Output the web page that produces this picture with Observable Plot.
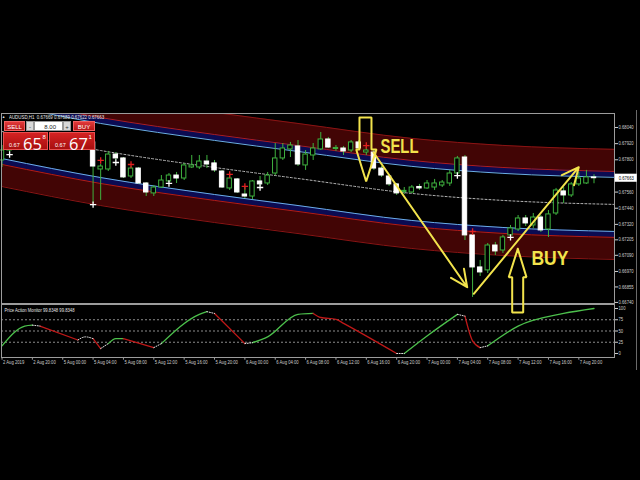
<!DOCTYPE html>
<html><head><meta charset="utf-8">
<script src="https://cdn.jsdelivr.net/npm/d3@7"></script>
<script src="https://cdn.jsdelivr.net/npm/@observablehq/plot@0.6"></script>
<style>
html,body{margin:0;padding:0;background:#000;}
#wrap{position:relative;width:640px;height:480px;overflow:hidden;background:#000;font-family:"Liberation Sans",sans-serif;}
#ind,#main{position:absolute;left:0;}
#ind{top:303px;z-index:1;}
#main{top:0;z-index:2;}
.ov{position:absolute;z-index:3;box-sizing:border-box;}
.hdr{color:#e8e8e8;font-size:5.5px;white-space:pre;line-height:6px;transform:scaleX(0.8);transform-origin:0 0;}
.btn{color:#fff;font-size:6px;line-height:10px;text-align:center;}
.red{background:linear-gradient(#e03a3a,#b81818);border:0.5px solid #f06060;}
.grey{background:#d8d8d8;color:#333;border:0.5px solid #999;}
.inp{background:#fff;color:#222;font-size:6px;line-height:10px;text-align:right;padding-right:6px;border:0.5px solid #999;}
.pbox{background:linear-gradient(#d42222,#a80f0f);color:#fff;border:0.5px solid #e85050;}
.pbox .sm{position:absolute;left:5px;top:8.5px;font-size:5.5px;}
.pbox .big{position:absolute;left:19px;top:-1.5px;font-size:16.5px;font-family:"Open Sans","Liberation Sans",sans-serif;}
.pbox .sup{position:absolute;left:38.5px;top:1px;font-size:6px;}
#edge{position:absolute;left:636px;top:110px;width:1px;height:260px;background:#6a6a6a;z-index:0;}
</style></head><body><div id="wrap">
<div id="edge"></div>
<div id="ind"></div><div id="main"></div>
<div class="ov hdr" style="left:2px;top:114px;font-size:4px;">▲</div>
<div class="ov hdr" id="hdr" style="left:9px;top:114px;"></div>
<div class="ov btn red" style="left:4px;top:121px;width:21px;height:10px;">SELL</div>
<div class="ov btn grey" style="left:26px;top:121px;width:8px;height:10px;">-</div>
<div class="ov inp" style="left:34px;top:121px;width:29px;height:10px;">8.00</div>
<div class="ov btn grey" style="left:63px;top:121px;width:8px;height:10px;">+</div>
<div class="ov btn red" style="left:73px;top:121px;width:22px;height:10px;">BUY</div>
<div class="ov pbox" style="left:3px;top:132px;width:45px;height:18px;"><span class="sm">0.67</span><span class="big">65</span><span class="sup">8</span></div>
<div class="ov pbox" style="left:49px;top:132px;width:46px;height:18px;"><span class="sm">0.67</span><span class="big">67</span><span class="sup">1</span></div>
</div>
<script>
// ---------- data ----------
const symbolHeader = ["AUDUSD,H1", "0.67669", "0.67689", "0.67622", "0.67663"];
const timeLabels = ["2 Aug 2019","2 Aug 20:00","5 Aug 00:00","5 Aug 04:00","5 Aug 08:00","5 Aug 12:00","5 Aug 16:00","5 Aug 20:00","6 Aug 00:00","6 Aug 04:00","6 Aug 08:00","6 Aug 12:00","6 Aug 16:00","6 Aug 20:00","7 Aug 00:00","7 Aug 04:00","7 Aug 08:00","7 Aug 12:00","7 Aug 16:00","7 Aug 20:00"];
const timeTickBars = [0,4,8,12,16,20,24,28,32,36,40,44,48,52,56,60,64,68,72,76];
const priceTicks = [0.68040,0.67920,0.67800,0.67560,0.67440,0.67320,0.67205,0.67090,0.66970,0.66855,0.66740];
const levelTicks = [0,25,50,75,100];
const levelLines = [25,50,75];

const bars   = [0,1,12,13,14,15,16,17,18,19,20,21,22,23,24,25,26,27,28,29,30,31,32,33,34,35,36,37,38,39,40,41,42,43,44,45,46,47,48,49,50,51,52,53,54,55,56,57,58,59,60,61,62,63,64,65,66,67,68,69,70,71,72,73,74,75,76,77,78];
const opens  = [0.67795,0.67869,0.67929,0.67728,0.67728,0.67839,0.67810,0.67676,0.67735,0.67624,0.67550,0.67594,0.67639,0.67683,0.67661,0.67743,0.67743,0.67787,0.67773,0.67713,0.67587,0.67654,0.67542,0.67527,0.67639,0.67624,0.67698,0.67810,0.67877,0.67899,0.67758,0.67832,0.67877,0.67951,0.67880,0.67884,0.67869,0.67929,0.67854,0.67854,0.67735,0.67676,0.67617,0.67561,0.67557,0.67598,0.67587,0.67594,0.67609,0.67624,0.67698,0.67817,0.67238,0.67000,0.66978,0.67163,0.67126,0.67238,0.67282,0.67364,0.67312,0.67371,0.67282,0.67401,0.67565,0.67535,0.67617,0.67624,0.67669];
const highs  = [0.67906,0.67958,0.67943,0.67765,0.67862,0.67854,0.67817,0.67750,0.67743,0.67631,0.67609,0.67683,0.67698,0.67706,0.67773,0.67832,0.67832,0.67832,0.67795,0.67721,0.67683,0.67661,0.67594,0.67646,0.67676,0.67706,0.67921,0.67921,0.67929,0.67943,0.67869,0.67921,0.68003,0.67966,0.67906,0.67899,0.67943,0.67943,0.67891,0.67869,0.67750,0.67691,0.67624,0.67594,0.67609,0.67617,0.67646,0.67654,0.67646,0.67721,0.67825,0.67832,0.67260,0.67052,0.67178,0.67186,0.67238,0.67312,0.67386,0.67386,0.67401,0.67386,0.67423,0.67587,0.67594,0.67631,0.67706,0.67721,0.67689];
const lows   = [0.67743,0.67854,0.67475,0.67498,0.67713,0.67795,0.67661,0.67661,0.67617,0.67527,0.67527,0.67587,0.67631,0.67624,0.67646,0.67735,0.67728,0.67735,0.67706,0.67587,0.67572,0.67550,0.67513,0.67505,0.67602,0.67609,0.67683,0.67795,0.67817,0.67750,0.67721,0.67795,0.67869,0.67884,0.67862,0.67832,0.67854,0.67869,0.67832,0.67721,0.67669,0.67602,0.67535,0.67542,0.67550,0.67572,0.67580,0.67572,0.67594,0.67602,0.67683,0.67200,0.66777,0.66933,0.66955,0.67089,0.67104,0.67230,0.67267,0.67304,0.67290,0.67260,0.67223,0.67386,0.67475,0.67520,0.67602,0.67617,0.67622];
const closes = [0.67869,0.67929,0.67750,0.67750,0.67839,0.67810,0.67669,0.67735,0.67624,0.67557,0.67594,0.67646,0.67683,0.67661,0.67758,0.67758,0.67787,0.67765,0.67721,0.67594,0.67661,0.67557,0.67527,0.67639,0.67617,0.67683,0.67810,0.67884,0.67906,0.67765,0.67839,0.67884,0.67951,0.67891,0.67888,0.67862,0.67929,0.67884,0.67869,0.67735,0.67683,0.67617,0.67550,0.67569,0.67594,0.67587,0.67624,0.67624,0.67631,0.67698,0.67810,0.67238,0.67000,0.66963,0.67163,0.67119,0.67223,0.67290,0.67364,0.67327,0.67371,0.67275,0.67394,0.67572,0.67535,0.67617,0.67661,0.67669,0.67663];

const buyMarkBars = [1,12,15,22,34,60,67];
const buyMarkPrices = [0.67839,0.67467,0.67780,0.67624,0.67594,0.67683,0.67223];
const sellMarkBars = [13,17,30,32,48,62];
const sellMarkPrices = [0.67795,0.67765,0.67691,0.67602,0.67906,0.67267];

const chanBars = [0,13,28,39,54,66,81];
const midLine = [0.68010,0.67869,0.67743,0.67661,0.67550,0.67498,0.67468];
const upOuter = [0.68419,0.68278,0.68152,0.68070,0.67959,0.67907,0.67877];
const upRed   = [0.68255,0.68114,0.67988,0.67906,0.67795,0.67743,0.67713];
const upBlue  = [0.68211,0.68070,0.67944,0.67862,0.67751,0.67699,0.67669];
const loBlue  = [0.67809,0.67668,0.67542,0.67460,0.67349,0.67297,0.67267];
const loRed   = [0.67765,0.67624,0.67498,0.67416,0.67305,0.67253,0.67223];
const loOuter = [0.67601,0.67460,0.67334,0.67252,0.67141,0.67089,0.67059];

// Price Action Monitor
const indBars  = [0,3,4,5,10,11,12,13,14,15,16,20,21,26,27,28,32,33,35,39,41,42,44,45,52,53,56,60,61,62,63,64,68,74,78];
const indVals  = [17,61,63,61,30,37,33,11,22,33,33,13,22,87,93,89,22,24,37,87,89,80,76,67,0,0,39,87,83,28,13,17,61,89,100];
const indSegState = ["g","g","w","r","w","w","r","w","g","g","r","w","g","g","w","r","w","g","g","g","r","r","r","r","w","g","g","w","r","r","w","g","g","g"];
const indTitle = ["Price Action Monitor", "99.8348", "99.8348"];

// annotations (bar index, price)
const sellArrowBars   = [47.10,48.68,48.68,49.34,47.98,46.67,47.10,47.10];
const sellArrowPrices = [0.68114,0.68114,0.67877,0.67877,0.67639,0.67877,0.67877,0.68114];
const buyArrowBars    = [67.96,69.10,68.67,68.67,67.22,67.22,66.77,67.96];
const buyArrowPrices  = [0.67139,0.66928,0.66928,0.66665,0.66665,0.66928,0.66928,0.67139];
const moveFromBars = [48.95,62.16];
const moveFromPrices = [0.67854,0.66804];
const moveToBars = [61.29,75.99];
const moveToPrices = [0.66853,0.67745];
const signalWords = ["SELL","BUY"];
const signalBars = [49.87,69.76];
const signalPrices = [0.67903,0.67070];

// ---------- build ----------
document.getElementById("hdr").textContent = symbolHeader[0] + "  " + symbolHeader.slice(1).join(" ");

const xMin = -0.066, xMax = 80.70;
const yMin = 0.66732, yMax = 0.68144;
const GREEN = "#3fb23f", YELLOW = "#f2e34c";
const FONT = '"Liberation Sans",sans-serif';

const candles = bars.map((b,k) => ({i:b, open:opens[k], high:highs[k], low:lows[k], close:closes[k]}));
const bull = candles.filter(d => d.close >= d.open);
const bear = candles.filter(d => d.close < d.open);
const chan = chanBars.map((b,k) => ({i:b, mid:midLine[k], uo:upOuter[k], ur:upRed[k], ub:upBlue[k], lb:loBlue[k], lr:loRed[k], lo:loOuter[k]}));
const buys = buyMarkBars.map((b,k) => ({i:b, p:buyMarkPrices[k]}));
const sells = sellMarkBars.map((b,k) => ({i:b, p:sellMarkPrices[k]}));
const sellPoly = sellArrowBars.map((b,k) => ({i:b, p:sellArrowPrices[k]}));
const buyPoly = buyArrowBars.map((b,k) => ({i:b, p:buyArrowPrices[k]}));
const moves = moveFromBars.map((b,k) => ({x1:b, y1:moveFromPrices[k], x2:moveToBars[k], y2:moveToPrices[k]}));
const words = signalWords.map((w,k) => ({w, i:signalBars[k], p:signalPrices[k]}));
const last = candles[candles.length-1];

const main = Plot.plot({
  width: 640, height: 303,
  marginTop: 113, marginBottom: 0, marginLeft: 1, marginRight: 26,
  x: {domain: [xMin, xMax], axis: null},
  y: {domain: [yMin, yMax], axis: "right", ticks: priceTicks, tickFormat: d3.format(".5f"), tickSize: 3, tickPadding: 1, label: null},
  style: {background: "transparent", color: "#cfcfcf", fontSize: "5px", fontFamily: FONT, overflow: "visible"},
  marks: [
    Plot.areaY(chan, {x: "i", y1: "ur", y2: "uo", fill: "#420505", curve: "monotone-x", clip: true}),
    Plot.areaY(chan, {x: "i", y1: "ub", y2: "ur", fill: "#0b0b52", curve: "monotone-x", clip: true}),
    Plot.areaY(chan, {x: "i", y1: "lr", y2: "lb", fill: "#0b0b52", curve: "monotone-x", clip: true}),
    Plot.areaY(chan, {x: "i", y1: "lo", y2: "lr", fill: "#420505", curve: "monotone-x", clip: true}),
    Plot.line(chan, {x: "i", y: "uo", stroke: "#8a1414", strokeWidth: 1, curve: "monotone-x", clip: true}),
    Plot.line(chan, {x: "i", y: "ur", stroke: "#b01c1c", strokeWidth: 1, curve: "monotone-x", clip: true}),
    Plot.line(chan, {x: "i", y: "lr", stroke: "#b01c1c", strokeWidth: 1, curve: "monotone-x", clip: true}),
    Plot.line(chan, {x: "i", y: "lo", stroke: "#8a1414", strokeWidth: 1, curve: "monotone-x", clip: true}),
    Plot.line(chan, {x: "i", y: "ub", stroke: "#6aaee6", strokeWidth: 1, curve: "monotone-x", clip: true}),
    Plot.line(chan, {x: "i", y: "lb", stroke: "#6aaee6", strokeWidth: 1, curve: "monotone-x", clip: true}),
    Plot.line(chan, {x: "i", y: "mid", stroke: "#b8b8b8", strokeWidth: 1, strokeDasharray: "2,2", curve: "monotone-x", clip: true}),
    Plot.ruleX(candles, {x: "i", y1: "low", y2: "high", stroke: GREEN, strokeWidth: 1}),
    Plot.rect(bull, {x1: d => d.i - 0.29, x2: d => d.i + 0.29, y1: "open", y2: "close", fill: "black", stroke: GREEN, strokeWidth: 1}),
    Plot.rect(bear, {x1: d => d.i - 0.29, x2: d => d.i + 0.29, y1: "open", y2: "close", fill: "white", stroke: "white", strokeWidth: 1}),
    Plot.dot(buys, {x: "i", y: "p", symbol: "plus", r: 2.2, stroke: "white", strokeWidth: 1.3}),
    Plot.dot(sells, {x: "i", y: "p", symbol: "plus", r: 2.2, stroke: "#e02020", strokeWidth: 1.3}),
    Plot.frame({stroke: "#9c9c9c"}),
    Plot.rect([last], {x1: xMax + 0.1, x2: xMax + 3.0, y1: d => d.close - 0.0003, y2: d => d.close + 0.0003, fill: "white"}),
    Plot.text([last], {x: xMax + 1.55, y: "close", text: d => d3.format(".5f")(d.close), fill: "black", fontSize: 5}),
    Plot.line(sellPoly, {x: "i", y: "p", stroke: YELLOW, strokeWidth: 2, strokeLinejoin: "miter"}),
    Plot.line(buyPoly, {x: "i", y: "p", stroke: YELLOW, strokeWidth: 2, strokeLinejoin: "miter"}),
    Plot.arrow(moves, {x1: "x1", y1: "y1", x2: "x2", y2: "y2", stroke: YELLOW, strokeWidth: 2, headLength: 14, headAngle: 50}),
    Plot.text(words, {x: "i", y: "p", text: "w", fill: YELLOW, fontSize: 21, fontWeight: "bold", textAnchor: "start", fontFamily: FONT})
  ]
});
document.getElementById("main").appendChild(main);

// indicator runs
const runs = [];
let runId = 0;
for (let s = 0; s < indSegState.length; s++) {
  if (s > 0 && indSegState[s] !== indSegState[s-1]) runId++;
  const st = indSegState[s];
  const prev = runs.length ? runs[runs.length-1] : null;
  if (!prev || prev.run !== runId) runs.push({run: runId, state: st, pts: [{x: indBars[s], v: indVals[s]}]});
  runs[runs.length-1].pts.push({x: indBars[s+1], v: indVals[s+1]});
}
const rows = runs.flatMap(r => r.pts.map(p => ({...p, run: r.run, state: r.state})));

const vMin = -8.9, vMax = 108.9;
const ind = Plot.plot({
  width: 640, height: 77,
  marginTop: 1, marginBottom: 23, marginLeft: 1, marginRight: 26,
  x: {domain: [xMin, xMax], axis: null},
  y: {domain: [vMin, vMax], axis: "right", ticks: levelTicks, tickSize: 3, tickPadding: 1, label: null},
  style: {background: "transparent", color: "#cfcfcf", fontSize: "5px", fontFamily: FONT, overflow: "visible"},
  marks: [
    Plot.ruleY(levelLines, {stroke: "#8c8c8c", strokeDasharray: "2,2"}),
    Plot.line(rows.filter(d => d.state === "g"), {x: "x", y: "v", z: "run", stroke: "#4cc04c", strokeWidth: 1.3, curve: "monotone-x"}),
    Plot.line(rows.filter(d => d.state === "r"), {x: "x", y: "v", z: "run", stroke: "#c01818", strokeWidth: 1.3, curve: "monotone-x"}),
    Plot.line(rows.filter(d => d.state === "w"), {x: "x", y: "v", z: "run", stroke: "#e0e0e0", strokeWidth: 1, strokeDasharray: "1,1.5", curve: "monotone-x"}),
    Plot.frame({stroke: "#9c9c9c"}),
    Plot.text([indTitle.join(" ")], {frameAnchor: "top-left", dx: 3, dy: 4, fill: "#e6e6e6", textAnchor: "start", fontSize: 5}),
    Plot.ruleX(timeTickBars, {x: d => d, y1: vMin, y2: vMin - 6, stroke: "#9c9c9c"}),
    Plot.text(timeTickBars, {x: d => d, text: (d, k) => timeLabels[k], frameAnchor: "bottom", dy: 6, dx: 1, textAnchor: "start", fill: "#cfcfcf", fontSize: 5})
  ]
});
document.getElementById("ind").appendChild(ind);

// narrow the small MT4-style texts (the reference uses a condensed UI font)
function condense(svg, factor, targets) {
  svg.querySelectorAll("text").forEach(t => {
    const s = t.textContent;
    const L = t.getComputedTextLength();
    if (!(L > 0)) return;
    const target = targets && targets[s] != null ? targets[s] : L * factor;
    t.setAttribute("textLength", target);
    t.setAttribute("lengthAdjust", "spacingAndGlyphs");
  });
}
condense(main, 0.84, {SELL: 38, BUY: 37});
condense(ind, 0.84, null);
</script></body></html>
